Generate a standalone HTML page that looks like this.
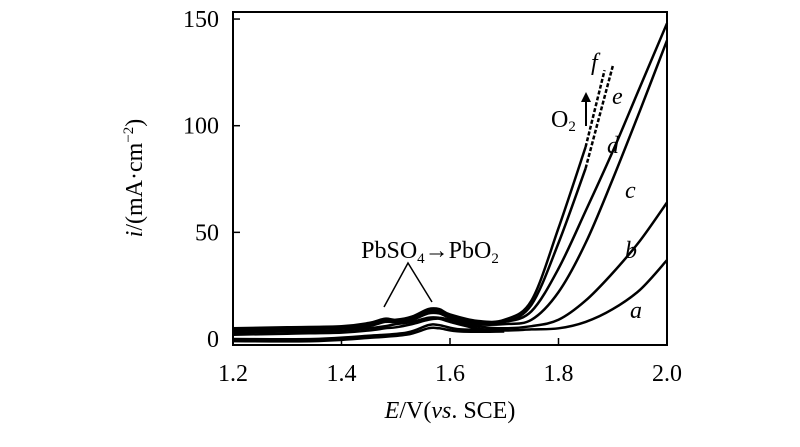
<!DOCTYPE html>
<html><head><meta charset="utf-8"><style>
body{margin:0;background:#fff}
svg text{font-family:"Liberation Serif",serif;fill:#000}
</style></head><body>
<svg id="chart" width="800" height="442">
<g id="axes"></g><g id="curves"></g>
<g>
<text x="430" y="258" font-size="24" text-anchor="middle">PbSO<tspan font-size="15" dy="5">4</tspan><tspan dy="-5">→PbO</tspan><tspan font-size="15" dy="5">2</tspan></text>
<polyline points="384,307 408,263 432,302" fill="none" stroke="#000" stroke-width="1.5"/>
<text x="551" y="127" font-size="24">O<tspan font-size="15" dy="4">2</tspan></text>
<line x1="586" y1="126" x2="586" y2="100" stroke="#000" stroke-width="2"/>
<polygon points="581,102 591,102 586,92" fill="#000"/>
<g font-size="24" font-style="italic">
<text x="591" y="70">f</text>
<text x="612" y="104">e</text>
<text x="607" y="153">d</text>
<text x="625" y="198">c</text>
<text x="625" y="258">b</text>
<text x="630" y="318">a</text>
</g>
<text x="450" y="418" font-size="24" text-anchor="middle"><tspan font-style="italic">E</tspan>/V(<tspan font-style="italic">vs</tspan>. SCE)</text>
<text transform="translate(142,178) rotate(-90)" font-size="24" text-anchor="middle"><tspan font-style="italic">i</tspan>/(mA·cm<tspan font-size="15" dy="-9">−2</tspan><tspan dy="9">)</tspan></text>
</g>
</svg>
<script>
const E = [1.2,1.3,1.4,1.45,1.48,1.5,1.53,1.56,1.58,1.6,1.65,1.7,1.75,1.8,1.85,1.9,1.95,2.0];
const seriesA = [2,2.5,3,4,5,5.5,7,9,9.5,8,5,4,4.5,5,8,14,23,37];
const seriesB = [3,3.5,4,5,6,7,8,10,10,9,6,5,6,9,18,31,46,64];
const seriesC = [4,4.5,5,6,8,8,9,12,12,10,7,7,9,22,45,75,107,140];
const seriesD = [4.5,5,5.5,7,9,8.5,10,13,13,11,8,8,13,33,60,88,118,148];
const seriesE = [4.5,5,5.5,7,9,8.5,10,13,13,11,8,8,16,45,80];
const seriesF = [5,5.5,6,7.5,9.5,9,10.5,14,14,11.5,8.5,9,18,52,90];
const fTipE = [1.85,1.885];
const fTipI = [90,126];
const eTipE = [1.85,1.9];
const eTipI = [80,128];
const revE = [1.2,1.35,1.45,1.52,1.56,1.58,1.62,1.7];
const revA = [-1,-1,0.5,2,5,5,3.5,3.5];
const revB = [0,0,1.5,3,6.5,6.5,4.5,4.5];
const xTicks = [1.2,1.4,1.6,1.8,2.0];
const xTickLabels = ["1.2","1.4","1.6","1.8","2.0"];
const yTicks = [0,50,100,150];
const yTickLabels = ["0","50","100","150"];
const NS="http://www.w3.org/2000/svg";
const L=233,R=667,T=12,B=345;
const xs=v=>L+(v-1.2)/0.8*(R-L);
const ys=v=>339-v*2.133;
function mk(t,a,p){const e=document.createElementNS(NS,t);for(const k in a)e.setAttribute(k,a[k]);p.appendChild(e);return e;}
const ax=document.getElementById('axes');
const frame=mk('rect',{x:L,y:T,width:R-L,height:B-T,fill:'none',stroke:'#000','stroke-width':2},ax);


xTicks.forEach((v,i)=>{
 const l=mk('line',{x1:xs(v),x2:xs(v),y1:B,y2:B-7,stroke:'#000','stroke-width':1.5},ax);
 
 
 const t=mk('text',{x:xs(v),y:B+36,'font-size':24,'text-anchor':'middle'},ax);
 t.textContent=xTickLabels[i];
 
 
});
yTicks.forEach((v,i)=>{
 const l=mk('line',{x1:L,x2:L+7,y1:ys(v),y2:ys(v),stroke:'#000','stroke-width':1.5},ax);
 
 
 const t=mk('text',{x:L-14,y:ys(v)+8,'font-size':24,'text-anchor':'end'},ax);
 t.textContent=yTickLabels[i];
 
 
});
const cg=document.getElementById('curves');
function path(ex,iy,name,dash){
 const P=iy.map((v,i)=>[xs(ex[i]),ys(v)]);
 let d='M'+P[0][0].toFixed(1)+','+P[0][1].toFixed(1);
 for(let i=0;i<P.length-1;i++){
  const p0=P[i-1]||P[i],p1=P[i],p2=P[i+1],p3=P[i+2]||P[i+1];
  const c1=[p1[0]+(p2[0]-p0[0])/6,p1[1]+(p2[1]-p0[1])/6];
  const c2=[p2[0]-(p3[0]-p1[0])/6,p2[1]-(p3[1]-p1[1])/6];
  d+=' C'+c1.map(n=>n.toFixed(1))+' '+c2.map(n=>n.toFixed(1))+' '+p2.map(n=>n.toFixed(1));
 }
 const p=mk('path',{d:d,fill:'none',stroke:'#000','stroke-width':2.5,'stroke-linejoin':'round'},cg);
 if(dash)p.setAttribute('stroke-dasharray','4,2');
 
 
}
path(E,seriesA,'curve-a');
path(E,seriesB,'curve-b');
path(E,seriesC,'curve-c');
path(E,seriesD,'curve-d');
path(E.slice(0,15),seriesE,'curve-e');
path(E.slice(0,15),seriesF,'curve-f');
path(eTipE,eTipI,'curve-e-dashed',true);
path(fTipE,fTipI,'curve-f-dashed',true);
path(revE,revA,'return-scan-a');
path(revE,revB,'return-scan-b');
</script>
</body></html>
